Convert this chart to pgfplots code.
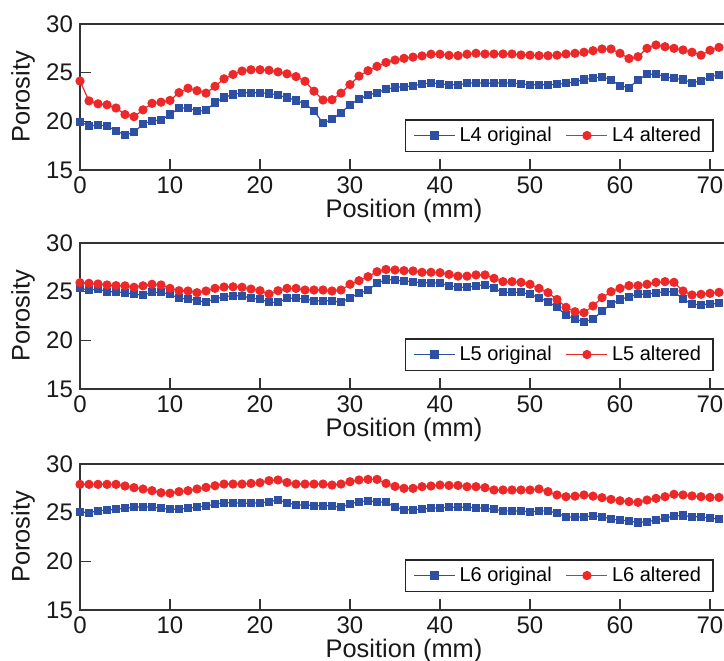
\documentclass[border=0pt]{standalone}
\usepackage{fontspec}
\setmainfont{Liberation Sans}
\usepackage{pgfplots}
\usepackage{pgfplotstable}
\pgfplotsset{compat=1.18}
\definecolor{myblue}{RGB}{45,80,165}
\definecolor{myred}{RGB}{236,40,40}

\pgfplotstableread{
x orig alt
0 19.97 24.14
1 19.52 22.1
2 19.62 21.8
3 19.52 21.7
4 19.04 21.37
5 18.6 20.7
6 18.87 20.48
7 19.73 21.18
8 20.05 21.85
9 20.15 21.97
10 20.7 22.15
11 21.34 22.95
12 21.4 23.4
13 21.03 23.15
14 21.13 22.9
15 21.93 23.6
16 22.45 24.37
17 22.75 24.82
18 22.94 25.17
19 22.94 25.3
20 22.94 25.3
21 22.86 25.25
22 22.68 25.08
23 22.45 24.88
24 22.15 24.6
25 21.8 24.12
26 21.1 23.1
27 19.8 22.19
28 20.2 22.22
29 20.89 22.9
30 21.71 23.78
31 22.3 24.65
32 22.7 25.2
33 22.95 25.65
34 23.3 26.05
35 23.48 26.3
36 23.56 26.47
37 23.66 26.6
38 23.8 26.72
39 23.97 26.9
40 23.85 26.9
41 23.75 26.78
42 23.75 26.75
43 23.9 26.9
44 23.97 26.99
45 23.92 26.92
46 23.92 26.92
47 23.95 26.92
48 23.92 26.92
49 23.85 26.82
50 23.75 26.8
51 23.75 26.75
52 23.75 26.75
53 23.8 26.8
54 23.9 26.92
55 24.07 26.99
56 24.3 27.1
57 24.42 27.26
58 24.59 27.43
59 24.25 27.43
60 23.66 26.99
61 23.46 26.45
62 24.25 26.64
63 24.83 27.5
64 24.83 27.84
65 24.59 27.67
66 24.42 27.5
67 24.3 27.33
68 23.97 27.1
69 24.15 26.8
70 24.59 27.3
71 24.76 27.6
}\tabA

\pgfplotstableread{
x orig alt
0 25.34 25.92
1 25.17 25.86
2 25.27 25.79
3 25.0 25.69
4 25.0 25.62
5 24.9 25.6
6 24.73 25.45
7 24.66 25.6
8 24.93 25.76
9 24.93 25.69
10 24.73 25.34
11 24.32 25.1
12 24.25 25.07
13 24.07 24.9
14 23.97 25.07
15 24.25 25.34
16 24.49 25.48
17 24.59 25.5
18 24.59 25.45
19 24.32 25.27
20 24.25 25.1
21 23.9 24.76
22 23.9 25.1
23 24.32 25.34
24 24.32 25.34
25 24.25 25.17
26 24.07 25.17
27 24.07 25.17
28 24.07 25.07
29 23.9 25.17
30 24.39 25.76
31 24.83 26.13
32 25.17 26.54
33 25.86 27.05
34 26.25 27.28
35 26.2 27.23
36 26.1 27.16
37 26.03 27.13
38 25.92 26.99
39 25.92 26.99
40 25.86 26.95
41 25.62 26.78
42 25.45 26.6
43 25.45 26.6
44 25.62 26.72
45 25.69 26.72
46 25.34 26.37
47 24.93 26.03
48 24.93 26.03
49 24.93 25.96
50 24.73 25.76
51 24.38 25.34
52 23.97 24.9
53 23.39 24.2
54 22.6 23.39
55 22.16 22.94
56 21.92 22.84
57 22.16 23.53
58 23.01 24.38
59 23.7 25.0
60 24.2 25.34
61 24.49 25.62
62 24.73 25.62
63 24.73 25.76
64 24.9 25.96
65 25.0 26.03
66 25.0 25.96
67 24.25 25.07
68 23.73 24.66
69 23.63 24.73
70 23.73 24.83
71 23.8 24.93
}\tabB

\pgfplotstableread{
x orig alt
0 25.1 27.91
1 25.0 27.91
2 25.2 27.91
3 25.27 27.91
4 25.34 27.91
5 25.45 27.74
6 25.55 27.57
7 25.62 27.43
8 25.55 27.26
9 25.45 27.05
10 25.34 27.0
11 25.38 27.16
12 25.45 27.26
13 25.55 27.43
14 25.69 27.6
15 25.86 27.77
16 26.03 27.94
17 26.03 27.94
18 25.97 27.94
19 25.97 28.01
20 26.03 28.08
21 26.13 28.29
22 26.3 28.36
23 26.03 28.1
24 25.79 27.94
25 25.79 27.94
26 25.72 27.94
27 25.72 27.94
28 25.69 27.84
29 25.55 27.94
30 25.9 28.18
31 26.13 28.36
32 26.2 28.42
33 26.13 28.42
34 26.06 28.01
35 25.6 27.7
36 25.3 27.5
37 25.3 27.5
38 25.38 27.67
39 25.45 27.74
40 25.5 27.84
41 25.55 27.8
42 25.55 27.8
43 25.55 27.67
44 25.5 27.67
45 25.45 27.57
46 25.34 27.33
47 25.2 27.33
48 25.17 27.33
49 25.17 27.33
50 25.1 27.33
51 25.17 27.43
52 25.2 27.16
53 24.93 26.82
54 24.59 26.64
55 24.52 26.7
56 24.59 26.82
57 24.66 26.7
58 24.59 26.54
59 24.35 26.37
60 24.25 26.23
61 24.14 26.13
62 24.0 26.06
63 24.07 26.3
64 24.25 26.47
65 24.42 26.64
66 24.66 26.89
67 24.7 26.82
68 24.59 26.72
69 24.59 26.64
70 24.42 26.57
71 24.35 26.57
}\tabC

\pgfplotsset{
 panel/.style={
  scale only axis, width=324pt, height=73pt,
  xmin=0, xmax=72, ymin=15, ymax=30,
  xtick={0,10,...,70}, ytick={15,20,25,30},
  xtick pos=bottom, ytick pos=left, tick align=inside,
  major tick length=5.5pt,
  axis line style={line width=0.75pt, black!80},
  every tick/.style={line width=0.75pt, black!80},
  /pgf/number format/assume math mode=true,
  tick label style={font=\fontsize{12}{14}\selectfont, text=black!90},
  xlabel={Position (mm)}, ylabel={Porosity},
  every axis x label/.style={at={(axis description cs:0.5,0)}, anchor=center, yshift=-20.5pt, font=\fontsize{12.7}{15}\selectfont, text=black!90},
  every axis y label/.style={at={(axis description cs:0,0.5)}, xshift=-28.5pt, rotate=90, anchor=center, font=\fontsize{12.7}{15}\selectfont, text=black!90},
  legend columns=2,
  legend style={at={(0.978,0.123)}, anchor=south east, draw=black!85, line width=0.75pt,
    font=\fontsize{10}{11}\selectfont, inner xsep=4pt, inner ysep=1.5pt,
    /tikz/every even column/.append style={column sep=5pt}},
  legend image code/.code={\draw[mark repeat=2,mark phase=2] plot coordinates {(0pt,0pt) (10.25pt,0pt) (20.5pt,0pt)};},
 },
 orig/.style={color=myblue, line width=0.6pt, mark=square*, mark size=1.75pt, mark options={solid, fill=myblue, draw=myblue}},
 alt/.style={color=myred, line width=0.6pt, mark=*, mark size=2pt, mark options={solid, fill=myred, draw=myred}},
}

\begin{document}
\begin{tikzpicture}
\begin{axis}[panel, at={(40pt,-85pt)}, anchor=south west]
\addplot[orig] table[x=x, y=orig] {\tabA};
\addlegendentry{L4 original}
\addplot[alt] table[x=x, y=alt] {\tabA};
\addlegendentry{L4 altered}
\end{axis}
\begin{axis}[panel, at={(40pt,-194.5pt)}, anchor=south west]
\addplot[orig] table[x=x, y=orig] {\tabB};
\addlegendentry{L5 original}
\addplot[alt] table[x=x, y=alt] {\tabB};
\addlegendentry{L5 altered}
\end{axis}
\begin{axis}[panel, at={(40pt,-305pt)}, anchor=south west]
\addplot[orig] table[x=x, y=orig] {\tabC};
\addlegendentry{L6 original}
\addplot[alt] table[x=x, y=alt] {\tabC};
\addlegendentry{L6 altered}
\end{axis}
\pgfresetboundingbox
\useasboundingbox (0pt,0pt) rectangle (362pt,-330pt);
\end{tikzpicture}
\end{document}
